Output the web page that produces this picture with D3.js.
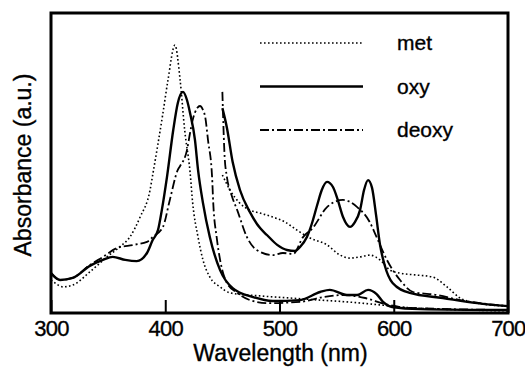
<!DOCTYPE html>
<html>
<head>
<meta charset="utf-8">
<script src="https://cdn.jsdelivr.net/npm/d3@7"></script>
<style>
  body { margin: 0; background: #fff; }
  svg { display: block; font-family: "Liberation Sans", Arial, sans-serif; }
  text { stroke: #000; stroke-width: 0.35px; }
</style>
</head>
<body>
<svg id="chart" width="525" height="374"></svg>
<script>
// wavelength (nm) vs absorbance (a.u., 0 = baseline, 1 = top of frame)
const metFull = [[300,0.110],[303.5,0.100],[310.5,0.087],[319,0.093],[334,0.137],[349,0.187],[360,0.220],[369,0.253],[378,0.320],[386.7,0.410],[389,0.460],[398,0.667],[402.4,0.777],[408.5,0.893],[413,0.777],[417,0.610],[421.7,0.470],[424,0.367],[428.7,0.253],[433,0.177],[439,0.120],[448,0.087],[456.7,0.067],[483,0.057],[509,0.050],[535.5,0.043],[559,0.037],[588,0.027],[605.5,0.020],[640.5,0.013],[700,0.007]]

const oxyFull = [[300,0.133],[308,0.110],[319,0.117],[334,0.157],[345.5,0.177],[354,0.187],[365,0.177],[375,0.173],[384,0.200],[389,0.243],[393.7,0.277],[397,0.343],[401.5,0.453],[407,0.610],[411,0.700],[415.5,0.737],[419,0.710],[421.7,0.667],[426,0.577],[428.7,0.477],[433,0.367],[439,0.253],[448,0.143],[459,0.083],[477,0.053],[494,0.040],[518,0.043],[535.5,0.070],[544,0.077],[559,0.060],[568,0.060],[577.5,0.077],[585,0.063],[590.6,0.037],[598.5,0.020],[623,0.013],[700,0.010]]

const deoxyFull = [[300,0.133],[308,0.110],[319,0.117],[334,0.160],[345.5,0.187],[358,0.217],[372,0.227],[384,0.237],[389,0.253],[398,0.287],[404,0.377],[411,0.477],[413,0.490],[419,0.543],[421.7,0.600],[424,0.643],[428,0.683],[430.4,0.690],[433,0.677],[435,0.653],[437.4,0.577],[441,0.453],[442,0.367],[445,0.253],[448,0.177],[454,0.100],[463,0.067],[474,0.043],[489,0.033],[518,0.037],[538,0.053],[555.6,0.060],[575,0.050],[592,0.030],[614,0.017],[700,0.010]]

// visible region, magnified
const metZoom = [[450,0.460],[456.7,0.410],[465,0.367],[474,0.343],[483,0.333],[494,0.320],[505,0.303],[515,0.277],[526.7,0.250],[541.6,0.227],[553,0.193],[561.7,0.183],[570.5,0.187],[579,0.193],[588,0.177],[596.7,0.143],[605.5,0.133],[618.6,0.127],[634,0.120],[646.6,0.087],[658,0.050],[673,0.033],[700,0.023]]

const oxyZoom = [[450,0.683],[454,0.617],[459,0.503],[465.4,0.410],[474,0.337],[483,0.283],[489,0.260],[498,0.227],[506.5,0.210],[513.6,0.207],[518,0.220],[524,0.253],[528.5,0.300],[533,0.360],[537,0.410],[541.6,0.437],[546.8,0.420],[551,0.377],[555.6,0.320],[561.7,0.287],[566,0.303],[570.5,0.343],[574,0.410],[577.5,0.443],[581,0.417],[584.5,0.327],[588,0.227],[592,0.160],[599,0.100],[614,0.067],[643,0.050],[673,0.033],[700,0.023]]

const deoxyZoom = [[450,0.737],[452,0.520],[454,0.453],[458,0.393],[463,0.343],[471.5,0.253],[480,0.210],[494,0.193],[503,0.200],[512,0.197],[520.6,0.253],[529,0.283],[541.6,0.353],[555.6,0.377],[568,0.353],[579,0.303],[585,0.253],[594,0.177],[605.5,0.110],[617,0.070],[638,0.060],[658,0.043],[700,0.023]]

const xTicks = [300, 400, 500, 600, 700]
const legendNames = ["met", "oxy", "deoxy"]

const styles = {
  met: {w: 1.6, dash: "1.6,2.4"},
  oxy: {w: 2.4, dash: null},
  deoxy: {w: 1.8, dash: "9,3,2,3"}
}

const svg = d3.select("#chart")
const margin = {top: 13, right: 17, bottom: 61, left: 51}
const width = 525, height = 374

const x = d3.scaleLinear().domain([300, 700]).range([margin.left, width - margin.right])
const y = d3.scaleLinear().domain([0, 1]).range([height - margin.bottom, margin.top])

const line = d3.line()
  .x(d => x(d[0]))
  .y(d => y(d[1]))
  .curve(d3.curveMonotoneX)

const curves = [
  {name: "met", data: metFull}, {name: "met", data: metZoom},
  {name: "deoxy", data: deoxyFull}, {name: "deoxy", data: deoxyZoom},
  {name: "oxy", data: oxyFull}, {name: "oxy", data: oxyZoom}
]

svg.append("g")
  .selectAll("path")
  .data(curves)
  .join("path")
    .attr("fill", "none")
    .attr("stroke", "#000")
    .attr("stroke-width", d => styles[d.name].w)
    .attr("stroke-dasharray", d => styles[d.name].dash)
    .attr("stroke-linejoin", "round")
    .attr("d", d => line(d.data))

// bottom axis, ticks pointing inward
svg.append("g")
  .attr("transform", `translate(0,${y(0)})`)
  .call(d3.axisBottom(x).tickValues(xTicks).tickSize(-13).tickPadding(7).tickFormat(d3.format("d")))
  .call(g => g.select(".domain").remove())
  .call(g => g.selectAll(".tick line").attr("stroke-width", 2))
  .call(g => g.selectAll(".tick text")
    .attr("font-size", 22)
    .attr("font-family", "Liberation Sans, Arial, sans-serif")
    .attr("letter-spacing", -0.8)
    .attr("fill", "#000"))
  .call(g => g.select(".tick:last-of-type text").attr("text-anchor", "end").attr("dx", 17))

// frame
svg.append("rect")
  .attr("x", x(300)).attr("y", y(1))
  .attr("width", x(700) - x(300)).attr("height", y(0) - y(1))
  .attr("fill", "none").attr("stroke", "#000").attr("stroke-width", 3)

svg.append("text")
  .attr("x", (x(300) + x(700)) / 2 + 1)
  .attr("y", 361)
  .attr("text-anchor", "middle")
  .attr("font-size", 23)
  .text("Wavelength (nm)")

svg.append("text")
  .attr("transform", `translate(31,${(y(0) + y(1)) / 2 + 2}) rotate(-90)`)
  .attr("text-anchor", "middle")
  .attr("font-size", 23)
  .text("Absorbance (a.u.)")

// legend
const legend = svg.append("g")
  .selectAll("g")
  .data(legendNames)
  .join("g")
    .attr("transform", (d, i) => `translate(260,${43 + i * 43.5})`)

legend.append("line")
  .attr("x1", 0).attr("x2", 103)
  .attr("stroke", "#000")
  .attr("stroke-width", d => styles[d].w)
  .attr("stroke-dasharray", d => styles[d].dash)

legend.append("text")
  .attr("x", 137)
  .attr("dy", "0.35em")
  .attr("font-size", 21)
  .text(d => d)
</script>
</body>
</html>
